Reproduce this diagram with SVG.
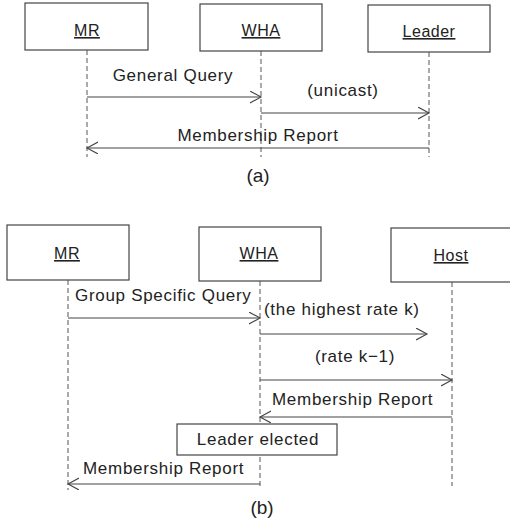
<svg xmlns="http://www.w3.org/2000/svg" width="510" height="520" viewBox="0 0 510 520">
<style>
.box{fill:#fff;stroke:#444;stroke-width:1.2}
.lbl{font-family:"Liberation Sans",Arial,sans-serif;font-size:16px;fill:#222;text-decoration:underline;text-anchor:middle;letter-spacing:0.5px}
.msg{font-family:"Liberation Sans",Arial,sans-serif;font-size:17px;fill:#222;letter-spacing:0.7px}
.cap{font-family:"Liberation Sans",Arial,sans-serif;font-size:19px;fill:#222;text-anchor:middle}
.life{stroke:#555;stroke-width:1;stroke-dasharray:5,3;fill:none}
.arr{stroke:#444;stroke-width:1.1;fill:none;marker-end:url(#ah)}
.mid{text-anchor:middle}
</style>
<defs>
<marker id="ah" markerWidth="14" markerHeight="14" refX="11" refY="6" orient="auto" markerUnits="userSpaceOnUse">
<path d="M0,0 L11,6 L0,12" fill="none" stroke="#444" stroke-width="1.1"/>
</marker>
</defs>
<rect width="510" height="520" fill="#fff"/>
<!-- (a) -->
<g id="a-mr"><rect class="box" x="25" y="3" width="123" height="47"/><text class="lbl" x="87" y="36">MR</text></g>
<g id="a-wha"><rect class="box" x="200" y="4" width="122" height="47"/><text class="lbl" x="261" y="36">WHA</text></g>
<g id="a-leader"><rect class="box" x="368" y="5" width="122" height="47"/><text class="lbl" x="429" y="37">Leader</text></g>
<g id="a-connectors">
<line class="life" x1="87" y1="50" x2="87" y2="157"/>
<line class="life" x1="261" y1="51" x2="261" y2="157"/>
<line class="life" x1="429" y1="52" x2="429" y2="157"/>
<line class="arr" x1="87" y1="97" x2="261" y2="97"/>
<line class="arr" x1="261" y1="113" x2="429" y2="113"/>
<line class="arr" x1="429" y1="148" x2="87" y2="148"/>
</g>
<text class="msg mid" x="173" y="81">General Query</text>
<text class="msg mid" x="343" y="96">(unicast)</text>
<text class="msg mid" x="258" y="141">Membership Report</text>
<text class="cap" x="258" y="182">(a)</text>
<!-- (b) -->
<g id="b-mr"><rect class="box" x="7" y="225" width="122" height="55"/><text class="lbl" x="67" y="259">MR</text></g>
<g id="b-wha"><rect class="box" x="199" y="227" width="122" height="54"/><text class="lbl" x="259" y="259">WHA</text></g>
<g id="b-host"><rect class="box" x="391" y="228" width="125" height="54"/><text class="lbl" x="451" y="261">Host</text></g>
<g id="b-connectors">
<line class="life" x1="68" y1="280" x2="68" y2="490"/>
<line class="life" x1="260" y1="281" x2="260" y2="486"/>
<line class="life" x1="452" y1="282" x2="452" y2="486"/>
<line class="arr" x1="68" y1="318" x2="260" y2="318"/>
<line class="arr" x1="260" y1="334" x2="427" y2="334"/>
<line class="arr" x1="260" y1="380" x2="452" y2="380"/>
<line class="arr" x1="452" y1="417" x2="260" y2="417"/>
<line class="arr" x1="260" y1="484" x2="68" y2="484"/>
</g>
<g id="b-leader-elected"><rect class="box" x="177" y="424" width="160" height="31"/><text class="msg mid" x="258" y="445">Leader elected</text></g>
<text class="msg" x="75" y="301">Group Specific Query</text>
<text class="msg" x="264" y="315">(the highest rate k)</text>
<text class="msg mid" x="355" y="362">(rate k−1)</text>
<text class="msg" x="272" y="405">Membership Report</text>
<text class="msg" x="83" y="474">Membership Report</text>
<text class="cap" x="262" y="514">(b)</text>
</svg>
